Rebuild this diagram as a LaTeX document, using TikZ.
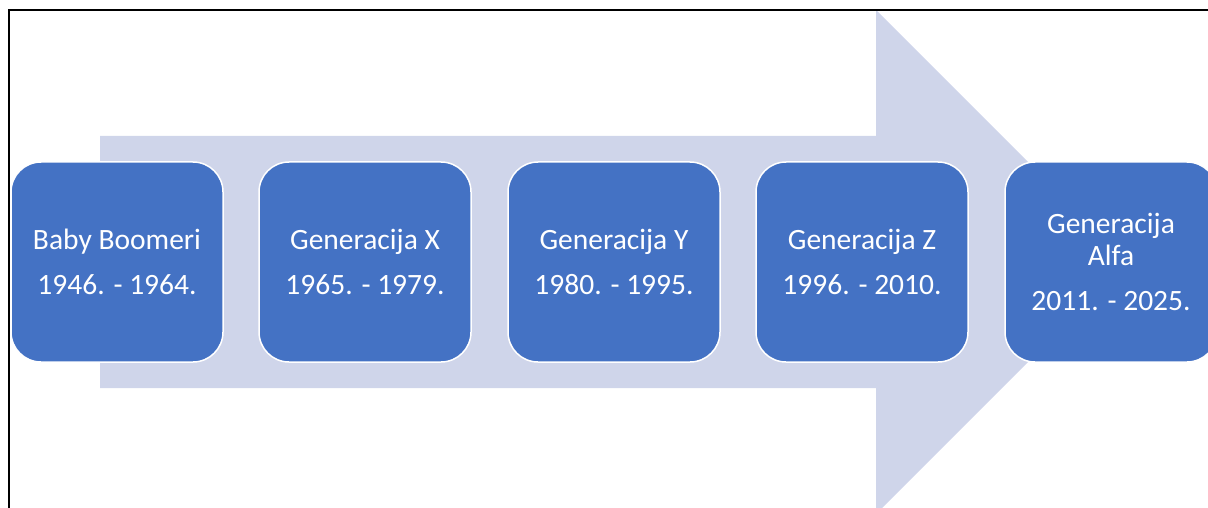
\documentclass[tikz,border=0pt]{standalone}
\usepackage{fontspec}
\setmainfont{Carlito}
\definecolor{boxblue}{HTML}{4472C4}
\definecolor{arrowfill}{HTML}{CFD5EA}
\begin{document}
\begin{tikzpicture}[x=1pt,y=-1pt,
  genbox/.style={rectangle, rounded corners=30pt, fill=boxblue, draw=white, line width=1.5pt,
    minimum width=212pt, minimum height=200pt, text=white, align=center,
    font=\fontsize{29.5}{32}\selectfont, inner sep=0pt}]
\useasboundingbox (0,0) rectangle (1208,508);
\begin{scope}
\clip (0,0) rectangle (1208,508);
\fill[arrowfill] (100,136) -- (876,136) -- (876,10) -- (1128,262) -- (876,514) -- (876,388) -- (100,388) -- cycle;
\node[genbox] (b1) at (117,262) {Baby Boomeri\\[13pt]1946. - 1964.};
\node[genbox] (b2) at (365,262) {Generacija X\\[13pt]1965. - 1979.};
\node[genbox] (b3) at (614,262) {Generacija Y\\[13pt]1980. - 1995.};
\node[genbox] (b4) at (862,262) {Generacija Z\\[13pt]1996. - 2010.};
\node[genbox] (b5) at (1111,262) {Generacija\\Alfa\\[13pt]2011. - 2025.};
\draw[black, line width=2.2pt] (9,508) -- (9,10) -- (1208,10);
\end{scope}
\end{tikzpicture}
\end{document}
